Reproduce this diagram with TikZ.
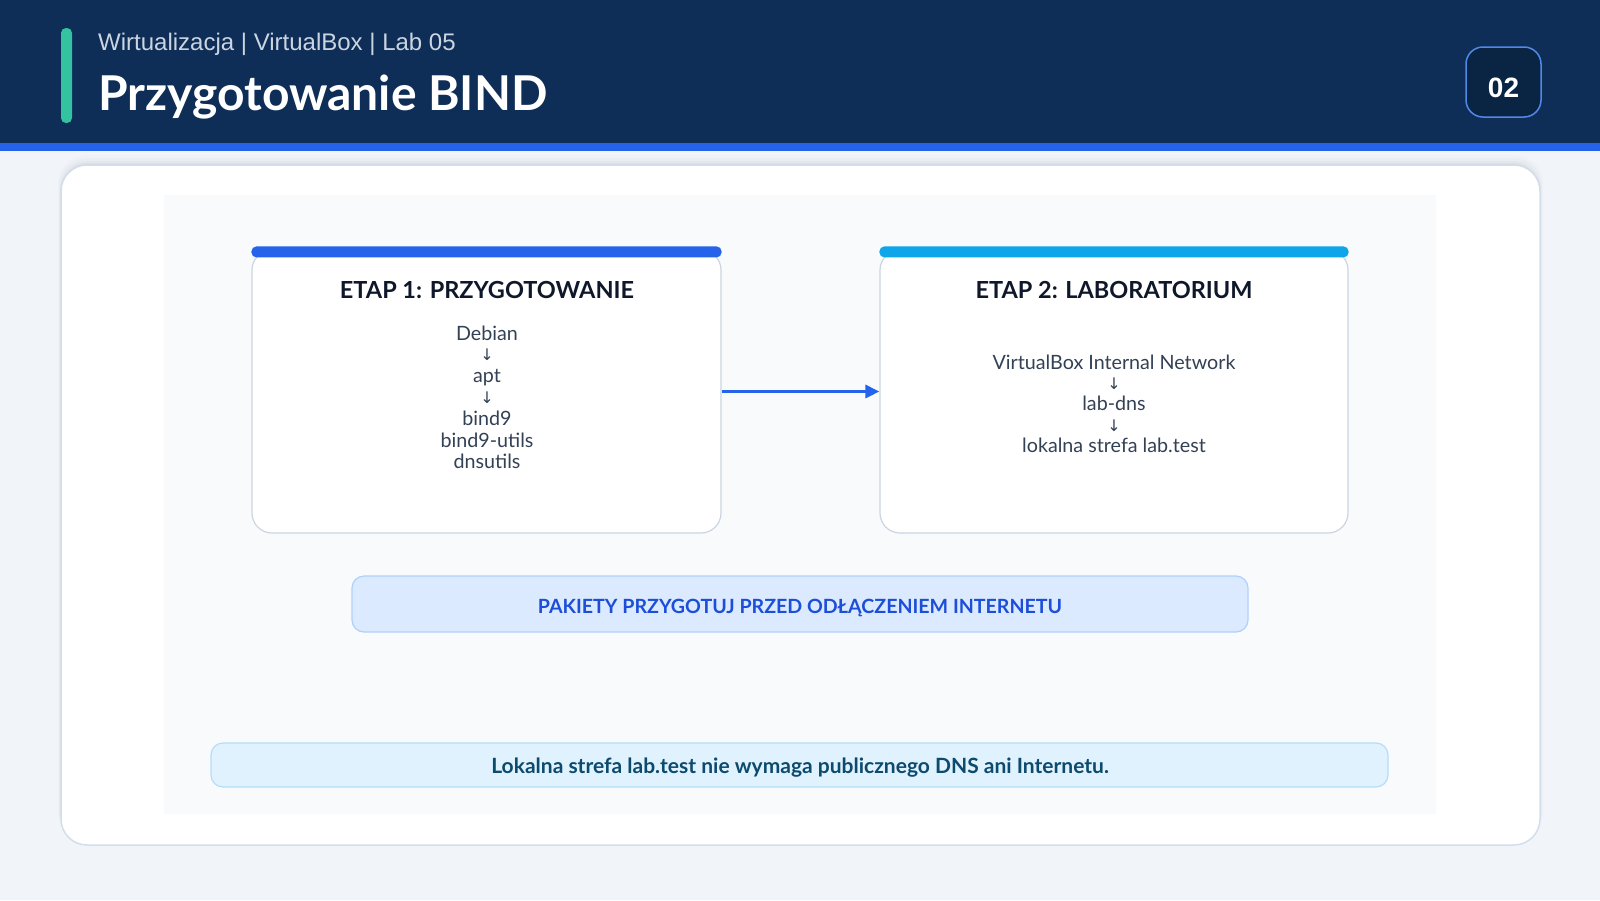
\documentclass[tikz,border=0pt]{standalone}
\usepackage{fontspec}
\setmainfont{Lato}
\newfontfamily\arialf{Liberation Sans}
\newfontfamily\arrowf{DejaVu Sans}
\usetikzlibrary{arrows.meta}
\definecolor{bgc}{HTML}{F1F5F9}
\definecolor{navy}{HTML}{0E2D57}
\definecolor{stripe}{HTML}{2563EB}
\definecolor{accent}{HTML}{34C3A0}
\definecolor{subt}{HTML}{CBD5E1}
\definecolor{badgefill}{HTML}{0A2444}
\definecolor{badgeline}{HTML}{5189E6}
\definecolor{cardline}{HTML}{D3DEEC}
\definecolor{panel}{HTML}{F8FAFC}
\definecolor{boxline}{HTML}{CBD5E1}
\definecolor{barone}{HTML}{2563EB}
\definecolor{bartwo}{HTML}{0EA5E9}
\definecolor{titlec}{HTML}{0F172A}
\definecolor{bodyc}{HTML}{334155}
\definecolor{warnfill}{HTML}{DBEAFE}
\definecolor{warnline}{HTML}{AFD0FB}
\definecolor{warntext}{HTML}{1D4ED8}
\definecolor{notefill}{HTML}{E0F2FE}
\definecolor{noteline}{HTML}{B5DDF8}
\definecolor{notetext}{HTML}{0C4A6E}
\tikzset{
  stagebox/.style={draw=boxline, line width=1.2pt, fill=white, rounded corners=20pt,
    minimum width=469pt, minimum height=283pt, inner sep=0pt},
  stagetitle/.style={anchor=base, inner sep=0pt, text=titlec,
    font=\fontsize{23.5pt}{27pt}\selectfont\bfseries},
  bodyline/.style={anchor=base, inner sep=0pt, text=bodyc,
    font=\fontsize{19.7pt}{22pt}\selectfont},
  arrowline/.style={anchor=base, inner sep=0pt, text=bodyc,
    font=\arrowf\fontsize{16pt}{18pt}\selectfont},
  flowarrow/.style={draw=stripe, line width=3pt, -{Triangle[length=14pt,width=13pt]}},
  warnbox/.style={draw=warnline, line width=1.2pt, fill=warnfill, rounded corners=12pt,
    minimum width=896pt, minimum height=56pt, inner sep=0pt},
  warntxt/.style={anchor=base, inner sep=0pt, text=warntext,
    font=\fontsize{19.6pt}{22pt}\selectfont\bfseries},
  notebox/.style={draw=noteline, line width=1.2pt, fill=notefill, rounded corners=12pt,
    minimum width=1177pt, minimum height=44pt, inner sep=0pt},
  notetxt/.style={anchor=base, inner sep=0pt, text=notetext,
    font=\fontsize{21pt}{24pt}\selectfont\bfseries},
}
\begin{document}
\begin{tikzpicture}[x=1pt,y=-1pt]
\useasboundingbox (0,0) rectangle (1600,900);
% background
\fill[bgc] (0,0) rectangle (1600,900);
% header
\fill[navy] (0,0) rectangle (1600,143);
\fill[stripe] (0,143) rectangle (1600,151);
\fill[accent, rounded corners=5pt] (61,28) rectangle (72,123);
\node[anchor=base west, inner sep=0pt, text=subt, font=\arialf\fontsize{24pt}{28pt}\selectfont]
  (subtitle) at (98,50) {Wirtualizacja | VirtualBox | Lab 05};
\node[anchor=base west, inner sep=0pt, text=white, font=\fontsize{48pt}{54pt}\selectfont\bfseries]
  (title) at (98,110) {Przygotowanie BIND};
\node[draw=badgeline, line width=1.5pt, fill=badgefill, rounded corners=17pt,
  minimum width=75pt, minimum height=70pt, inner sep=0pt] (badge) at (1503.5,82) {};
\node[anchor=base, inner sep=0pt, text=white, font=\arialf\fontsize{28pt}{32pt}\selectfont\bfseries]
  (badgenum) at (1503.5,97) {02};
% card shadow (soft, mostly above)
\foreach \o/\a in {10/0.012,7/0.018,4/0.024,2/0.03}{
  \fill[black, opacity=\a, rounded corners=28pt] (61-\o*0.3,165-\o) rectangle (1540+\o*0.3,840);
}
% card
\node[draw=cardline, line width=1.5pt, fill=white, rounded corners=26pt,
  minimum width=1479pt, minimum height=680pt, inner sep=0pt] (card) at (800.5,505) {};
\fill[panel] (164,195) rectangle (1436,814);
% stage boxes
\node[stagebox] (s1) at (486.5,391.5) {};
\node[stagebox, minimum width=468pt] (s2) at (1114,391.5) {};
\fill[barone, rounded corners=5pt] ([yshift=3pt]s1.north west) rectangle ([yshift=-8pt]s1.north east);
\fill[bartwo, rounded corners=5pt] ([yshift=3pt]s2.north west) rectangle ([yshift=-8pt]s2.north east);
\node[stagetitle] (t1) at (487,298) {ETAP 1: PRZYGOTOWANIE};
\node[stagetitle] (t2) at (1114,298) {ETAP 2: LABORATORIUM};
% stage 1 content
\node[bodyline] (a1) at (487,340) {Debian};
\node[arrowline] (a2) at (487,360) {↓};
\node[bodyline] (a3) at (487,382) {apt};
\node[arrowline] (a4) at (487,403) {↓};
\node[bodyline] (a5) at (487,425) {bind9};
\node[bodyline] (a6) at (487,447) {bind9-utils};
\node[bodyline] (a7) at (487,468) {dnsutils};
% stage 2 content
\node[bodyline] (b1) at (1114,369) {VirtualBox Internal Network};
\node[arrowline] (b2) at (1114,389) {↓};
\node[bodyline] (b3) at (1114,410) {lab-dns};
\node[arrowline] (b4) at (1114,431) {↓};
\node[bodyline] (b5) at (1114,452) {lokalna strefa lab.test};
% arrow
\draw[flowarrow] (s1.east) -- (s2.west);
% banners
\node[warnbox] (warn) at (800,604) {};
\node[warntxt] (warnt) at (800,613) {PAKIETY PRZYGOTUJ PRZED ODŁĄCZENIEM INTERNETU};
\node[notebox] (note) at (799.5,765) {};
\node[notetxt] (notet) at (800,773) {Lokalna strefa lab.test nie wymaga publicznego DNS ani Internetu.};
\end{tikzpicture}
\end{document}
